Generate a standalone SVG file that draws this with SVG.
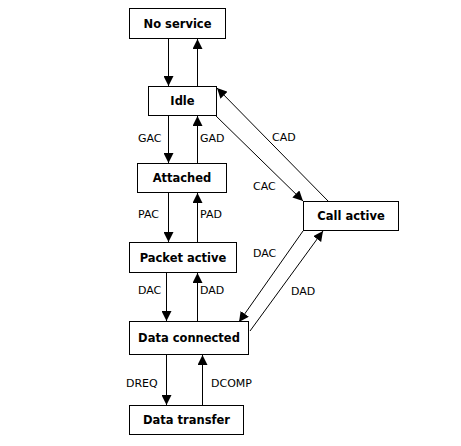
<svg xmlns="http://www.w3.org/2000/svg" width="461" height="446" viewBox="0 0 461 446">
<style>
.box{fill:#fff;stroke:#000;stroke-width:1}
.bt{font-family:"DejaVu Sans",Verdana,sans-serif;font-weight:bold;font-size:11.5px;text-anchor:middle;fill:#000}
.lb{font-family:"DejaVu Sans",Verdana,sans-serif;font-size:11px;fill:#000}
.ln{stroke:#000;stroke-width:1;fill:none;marker-end:url(#ah)}
</style>
<defs>
<marker id="ah" markerUnits="userSpaceOnUse" markerWidth="11" markerHeight="10" refX="10" refY="5" orient="auto">
<path d="M0,0 L10,5 L0,10 Z" fill="#000"/>
</marker>
</defs>
<rect width="461" height="446" fill="#fff"/>
<g id="connectors">
<line class="ln" x1="168.5" y1="39" x2="168.5" y2="86"/>
<line class="ln" x1="197.5" y1="86" x2="197.5" y2="39"/>
<line class="ln" x1="168.5" y1="116" x2="168.5" y2="163"/>
<line class="ln" x1="197.5" y1="163" x2="197.5" y2="116"/>
<line class="ln" x1="168.5" y1="193" x2="168.5" y2="242"/>
<line class="ln" x1="197.5" y1="242" x2="197.5" y2="193"/>
<line class="ln" x1="166.5" y1="273" x2="166.5" y2="321"/>
<line class="ln" x1="197.5" y1="321" x2="197.5" y2="273"/>
<line class="ln" x1="166.5" y1="355" x2="166.5" y2="405"/>
<line class="ln" x1="202.5" y1="405" x2="202.5" y2="355"/>
<line class="ln" x1="215" y1="115" x2="303" y2="201"/>
<line class="ln" x1="329" y1="202" x2="217" y2="88"/>
<line class="ln" x1="303" y1="231" x2="239" y2="322"/>
<line class="ln" x1="250" y1="331" x2="323" y2="231"/>
<text class="lb" x="138" y="142">GAC</text>
<text class="lb" x="200" y="142">GAD</text>
<text class="lb" x="138" y="218">PAC</text>
<text class="lb" x="200" y="218">PAD</text>
<text class="lb" x="138" y="294">DAC</text>
<text class="lb" x="200" y="294">DAD</text>
<text class="lb" x="126" y="387">DREQ</text>
<text class="lb" x="211" y="387">DCOMP</text>
<text class="lb" x="272" y="141">CAD</text>
<text class="lb" x="253" y="190">CAC</text>
<text class="lb" x="253" y="257">DAC</text>
<text class="lb" x="291" y="295">DAD</text>
</g>
<g id="no-service"><rect class="box" x="129.5" y="8.5" width="96" height="30"/><text class="bt" x="177.5" y="28">No service</text></g>
<g id="idle"><rect class="box" x="148.5" y="86.5" width="68" height="29"/><text class="bt" x="182.5" y="105">Idle</text></g>
<g id="attached"><rect class="box" x="137.5" y="163.5" width="89" height="29"/><text class="bt" x="182" y="182">Attached</text></g>
<g id="packet-active"><rect class="box" x="129.5" y="242.5" width="107" height="30"/><text class="bt" x="183" y="262">Packet active</text></g>
<g id="data-connected"><rect class="box" x="129.5" y="321.5" width="119" height="33"/><text class="bt" x="189" y="342">Data connected</text></g>
<g id="data-transfer"><rect class="box" x="129.5" y="405.5" width="114" height="29"/><text class="bt" x="186.5" y="424">Data transfer</text></g>
<g id="call-active"><rect class="box" x="303.5" y="201.5" width="95" height="29"/><text class="bt" x="351" y="220">Call active</text></g>
</svg>
